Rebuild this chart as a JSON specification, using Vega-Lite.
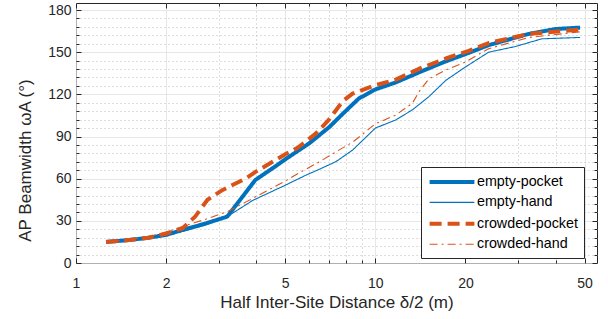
{
  "$schema": "https://vega.github.io/schema/vega-lite/v6.json",
  "width": 521,
  "height": 260,
  "autosize": {"type": "none"},
  "padding": {"left": 76, "top": 3, "right": 11, "bottom": 56},
  "background": "white",
  "config": {
    "view": {"stroke": "#262626", "strokeWidth": 1},
    "font": "Liberation Sans",
    "axis": {
      "labelFont": "Liberation Sans",
      "labelFontSize": 14,
      "labelColor": "#262626",
      "titleFont": "Liberation Sans",
      "titleFontSize": 17,
      "titleFontWeight": "normal",
      "titleColor": "#262626",
      "domainColor": "#262626",
      "tickColor": "#262626",
      "labelOverlap": false,
      "labelFlush": false,
      "labelBound": false
    },
    "legend": {
      "labelFont": "Liberation Sans",
      "labelFontSize": 14.3,
      "labelColor": "#000000",
      "title": null,
      "orient": "none",
      "legendX": 345,
      "legendY": 164,
      "symbolType": "M-3.2,0H3.2",
      "symbolSize": 196,
      "symbolOffset": 16,
      "fillColor": "white",
      "strokeColor": "#262626",
      "padding": 6,
      "rowPadding": 4.4,
      "labelOffset": 16
    }
  },
  "data": {
    "values": [
      {"series": "empty-pocket", "x": 1.26, "y": 15},
      {"series": "empty-pocket", "x": 1.5, "y": 16.3},
      {"series": "empty-pocket", "x": 1.75, "y": 18},
      {"series": "empty-pocket", "x": 2.0, "y": 20},
      {"series": "empty-pocket", "x": 2.27, "y": 23.5},
      {"series": "empty-pocket", "x": 2.7, "y": 28},
      {"series": "empty-pocket", "x": 3.2, "y": 33},
      {"series": "empty-pocket", "x": 3.97, "y": 59},
      {"series": "empty-pocket", "x": 4.65, "y": 69},
      {"series": "empty-pocket", "x": 5.02, "y": 74},
      {"series": "empty-pocket", "x": 6.0, "y": 85},
      {"series": "empty-pocket", "x": 7.0, "y": 96.5},
      {"series": "empty-pocket", "x": 7.77, "y": 106},
      {"series": "empty-pocket", "x": 8.8, "y": 117},
      {"series": "empty-pocket", "x": 10.0, "y": 123.5},
      {"series": "empty-pocket", "x": 11.7, "y": 128.5},
      {"series": "empty-pocket", "x": 14.3, "y": 136.5},
      {"series": "empty-pocket", "x": 17.2, "y": 143.5},
      {"series": "empty-pocket", "x": 20.5, "y": 149.5},
      {"series": "empty-pocket", "x": 23.9, "y": 155},
      {"series": "empty-pocket", "x": 32.5, "y": 163},
      {"series": "empty-pocket", "x": 40, "y": 166.5},
      {"series": "empty-pocket", "x": 48.3, "y": 167.5},

      {"series": "empty-hand", "x": 1.26, "y": 15},
      {"series": "empty-hand", "x": 1.5, "y": 16.3},
      {"series": "empty-hand", "x": 1.75, "y": 18},
      {"series": "empty-hand", "x": 2.0, "y": 20},
      {"series": "empty-hand", "x": 2.27, "y": 22.5},
      {"series": "empty-hand", "x": 2.7, "y": 27},
      {"series": "empty-hand", "x": 3.2, "y": 33},
      {"series": "empty-hand", "x": 3.89, "y": 44.5},
      {"series": "empty-hand", "x": 5.02, "y": 55.5},
      {"series": "empty-hand", "x": 5.86, "y": 62.5},
      {"series": "empty-hand", "x": 6.5, "y": 66.7},
      {"series": "empty-hand", "x": 7.37, "y": 72},
      {"series": "empty-hand", "x": 8.4, "y": 80.4},
      {"series": "empty-hand", "x": 10.0, "y": 96},
      {"series": "empty-hand", "x": 11.7, "y": 101.8},
      {"series": "empty-hand", "x": 13.3, "y": 109},
      {"series": "empty-hand", "x": 15.1, "y": 118.4},
      {"series": "empty-hand", "x": 17.2, "y": 130},
      {"series": "empty-hand", "x": 20, "y": 139.5},
      {"series": "empty-hand", "x": 23.9, "y": 150},
      {"series": "empty-hand", "x": 29.3, "y": 154},
      {"series": "empty-hand", "x": 36, "y": 159.5},
      {"series": "empty-hand", "x": 48.3, "y": 160.5},

      {"series": "crowded-pocket", "x": 1.26, "y": 15},
      {"series": "crowded-pocket", "x": 1.5, "y": 16.3},
      {"series": "crowded-pocket", "x": 1.75, "y": 18},
      {"series": "crowded-pocket", "x": 2.0, "y": 21},
      {"series": "crowded-pocket", "x": 2.27, "y": 24.7},
      {"series": "crowded-pocket", "x": 2.5, "y": 33},
      {"series": "crowded-pocket", "x": 2.75, "y": 45},
      {"series": "crowded-pocket", "x": 3.09, "y": 52},
      {"series": "crowded-pocket", "x": 3.7, "y": 60.3},
      {"series": "crowded-pocket", "x": 3.99, "y": 65},
      {"series": "crowded-pocket", "x": 5.02, "y": 77.5},
      {"series": "crowded-pocket", "x": 5.5, "y": 82},
      {"series": "crowded-pocket", "x": 6.32, "y": 92},
      {"series": "crowded-pocket", "x": 7.0, "y": 102},
      {"series": "crowded-pocket", "x": 7.77, "y": 115},
      {"series": "crowded-pocket", "x": 8.39, "y": 120.5},
      {"series": "crowded-pocket", "x": 10.0, "y": 126.5},
      {"series": "crowded-pocket", "x": 11.7, "y": 130.5},
      {"series": "crowded-pocket", "x": 14.3, "y": 139},
      {"series": "crowded-pocket", "x": 17.2, "y": 145.5},
      {"series": "crowded-pocket", "x": 20.5, "y": 151},
      {"series": "crowded-pocket", "x": 23.9, "y": 156.5},
      {"series": "crowded-pocket", "x": 32.5, "y": 163},
      {"series": "crowded-pocket", "x": 48.3, "y": 166},

      {"series": "crowded-hand", "x": 1.26, "y": 15},
      {"series": "crowded-hand", "x": 1.5, "y": 16.5},
      {"series": "crowded-hand", "x": 1.75, "y": 18.5},
      {"series": "crowded-hand", "x": 2.0, "y": 22},
      {"series": "crowded-hand", "x": 2.27, "y": 26},
      {"series": "crowded-hand", "x": 2.7, "y": 31},
      {"series": "crowded-hand", "x": 3.2, "y": 36.5},
      {"series": "crowded-hand", "x": 3.7, "y": 43.5},
      {"series": "crowded-hand", "x": 5.02, "y": 58.5},
      {"series": "crowded-hand", "x": 5.5, "y": 63.5},
      {"series": "crowded-hand", "x": 6.5, "y": 72},
      {"series": "crowded-hand", "x": 7.37, "y": 79},
      {"series": "crowded-hand", "x": 8.4, "y": 86},
      {"series": "crowded-hand", "x": 10.0, "y": 99},
      {"series": "crowded-hand", "x": 11.7, "y": 105.3},
      {"series": "crowded-hand", "x": 13.3, "y": 113.7},
      {"series": "crowded-hand", "x": 14.0, "y": 122},
      {"series": "crowded-hand", "x": 15.1, "y": 131},
      {"series": "crowded-hand", "x": 17.2, "y": 137.4},
      {"series": "crowded-hand", "x": 20, "y": 143},
      {"series": "crowded-hand", "x": 23.9, "y": 152.5},
      {"series": "crowded-hand", "x": 32.6, "y": 160.5},
      {"series": "crowded-hand", "x": 48.3, "y": 164.5}
    ]
  },
  "layer": [
    {
      "mark": {"type": "line", "strokeCap": "butt", "strokeJoin": "round"},
      "encoding": {
        "x": {
          "field": "x", "type": "quantitative",
          "scale": {"type": "log", "domain": [1, 55], "nice": false},
          "axis": {
            "orient": "bottom",
            "title": "Half Inter-Site Distance δ/2 (m)",
            "titlePadding": 2,
            "values": [1, 2, 3, 4, 5, 6, 7, 8, 9, 10, 20, 30, 40, 50],
            "labelExpr": "indexof([1,2,5,10,20,50], datum.value) >= 0 ? datum.value : ''",
            "labelPadding": 18,
            "tickSize": {"condition": {"test": "indexof([1,2,5,10,20,50], datum.value) >= 0", "value": -5}, "value": -3},
            "grid": true,
            "gridColor": {"condition": {"test": "indexof([1,2,5,10,20,50], datum.value) >= 0", "value": "#dedede"}, "value": "#bdbdbd"},
            "gridDash": {"condition": {"test": "indexof([1,2,5,10,20,50], datum.value) >= 0", "value": [1, 0]}, "value": [1, 3]},
            "domain": false
          }
        },
        "y": {
          "field": "y", "type": "quantitative",
          "scale": {"domain": [0, 185], "nice": false, "zero": false},
          "axis": {
            "orient": "left",
            "title": "AP Beamwidth ωA (°)",
            "titlePadding": 13,
            "titleY": 157,
            "values": [0, 6, 12, 18, 24, 30, 36, 42, 48, 54, 60, 66, 72, 78, 84, 90, 96, 102, 108, 114, 120, 126, 132, 138, 144, 150, 156, 162, 168, 174, 180],
            "labelExpr": "datum.value % 30 == 0 ? datum.value : ''",
            "labelPadding": 10,
            "tickSize": {"condition": {"test": "datum.value % 30 == 0", "value": -5}, "value": -3},
            "grid": true,
            "gridColor": {"condition": {"test": "datum.value % 30 == 0", "value": "#dedede"}, "value": "#bdbdbd"},
            "gridDash": {"condition": {"test": "datum.value % 30 == 0", "value": [1, 0]}, "value": [1, 3]},
            "domain": false
          }
        },
        "detail": {"field": "series"},
        "color": {
          "field": "series", "type": "nominal",
          "scale": {
            "domain": ["empty-pocket", "empty-hand", "crowded-pocket", "crowded-hand"],
            "range": ["#0072BD", "#0072BD", "#D95319", "#D95319"]
          }
        },
        "strokeDash": {
          "field": "series", "type": "nominal",
          "scale": {
            "domain": ["empty-pocket", "empty-hand", "crowded-pocket", "crowded-hand"],
            "range": [[1, 0], [1, 0], [12, 6], [8, 4, 2, 4]]
          }
        },
        "strokeWidth": {
          "field": "series", "type": "nominal",
          "scale": {
            "type": "ordinal",
            "domain": ["empty-pocket", "empty-hand", "crowded-pocket", "crowded-hand"],
            "range": [4, 1.1, 4, 1.1]
          }
        }
      }
    },
    {
      "mark": {"type": "line", "opacity": 0},
      "encoding": {
        "x": {
          "field": "x", "type": "quantitative",
          "scale": {"type": "log", "domain": [1, 55], "nice": false},
          "axis": {
            "orient": "top",
            "title": null,
            "values": [1, 2, 3, 4, 5, 6, 7, 8, 9, 10, 20, 30, 40, 50],
            "labels": false,
            "tickSize": {"condition": {"test": "indexof([1,2,5,10,20,50], datum.value) >= 0", "value": -5}, "value": -3},
            "grid": false,
            "domain": false
          }
        },
        "y": {
          "field": "y", "type": "quantitative",
          "scale": {"domain": [0, 185], "nice": false, "zero": false},
          "axis": {
            "orient": "right",
            "title": null,
            "values": [0, 6, 12, 18, 24, 30, 36, 42, 48, 54, 60, 66, 72, 78, 84, 90, 96, 102, 108, 114, 120, 126, 132, 138, 144, 150, 156, 162, 168, 174, 180],
            "labels": false,
            "tickSize": {"condition": {"test": "datum.value % 30 == 0", "value": -5}, "value": -3},
            "grid": false,
            "domain": false
          }
        },
        "detail": {"field": "series"}
      }
    }
  ],
  "resolve": {"axis": {"x": "independent", "y": "independent"}}
}
